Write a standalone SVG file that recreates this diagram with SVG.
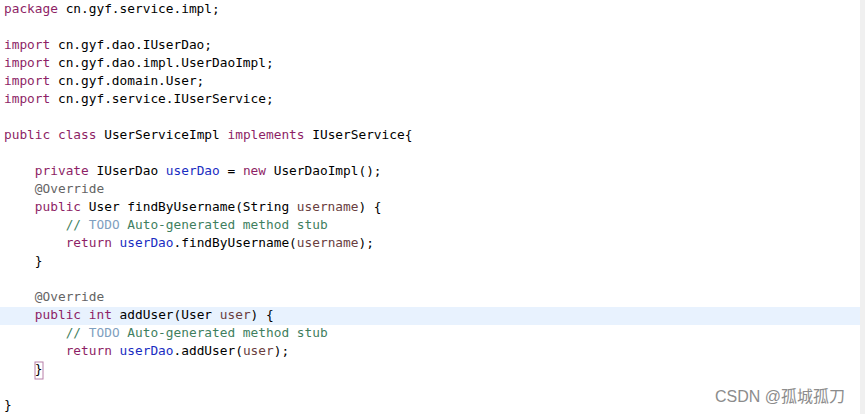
<svg xmlns="http://www.w3.org/2000/svg" width="865" height="414" viewBox="0 0 865 414">
<style>
.c{font-family:"DejaVu Sans Mono","Liberation Mono",monospace;font-size:12.8px;fill:#000;white-space:pre}
.k{fill:#8E1F66}
.f{fill:#1A2DC2}
.p{fill:#6A3E3E}
.m{fill:#3F7F5F}
.t{fill:#7F9FBF}
.a{fill:#646464}
</style>
<rect x="0" y="0" width="865" height="414" fill="#ffffff"/>
<rect x="0" y="307" width="860" height="18" fill="#E8F2FE"/>
<rect x="860" y="0" width="5" height="414" fill="#F0F0F0"/>
<rect x="35" y="362" width="8" height="17" fill="none" stroke="#B77FA8" stroke-width="1"/>
<g id="code" xml:space="preserve">
<text class="c" x="4" y="13"><tspan class="k">package</tspan> cn.gyf.service.impl;</text>
<text class="c" x="4" y="49"><tspan class="k">import</tspan> cn.gyf.dao.IUserDao;</text>
<text class="c" x="4" y="67"><tspan class="k">import</tspan> cn.gyf.dao.impl.UserDaoImpl;</text>
<text class="c" x="4" y="85"><tspan class="k">import</tspan> cn.gyf.domain.User;</text>
<text class="c" x="4" y="103"><tspan class="k">import</tspan> cn.gyf.service.IUserService;</text>
<text class="c" x="4" y="139"><tspan class="k">public</tspan> <tspan class="k">class</tspan> UserServiceImpl <tspan class="k">implements</tspan> IUserService{</text>
<text class="c" x="4" y="175">    <tspan class="k">private</tspan> IUserDao <tspan class="f">userDao</tspan> = <tspan class="k">new</tspan> UserDaoImpl();</text>
<text class="c" x="4" y="193">    <tspan class="a">@Override</tspan></text>
<text class="c" x="4" y="211">    <tspan class="k">public</tspan> User findByUsername(String <tspan class="p">username</tspan>) {</text>
<text class="c" x="4" y="229">        <tspan class="m">// </tspan><tspan class="t">TODO</tspan><tspan class="m"> Auto-generated method stub</tspan></text>
<text class="c" x="4" y="247">        <tspan class="k">return</tspan> <tspan class="f">userDao</tspan>.findByUsername(<tspan class="p">username</tspan>);</text>
<text class="c" x="4" y="265">    }</text>
<text class="c" x="4" y="301">    <tspan class="a">@Override</tspan></text>
<text class="c" x="4" y="319">    <tspan class="k">public</tspan> <tspan class="k">int</tspan> addUser(User <tspan class="p">user</tspan>) {</text>
<text class="c" x="4" y="337">        <tspan class="m">// </tspan><tspan class="t">TODO</tspan><tspan class="m"> Auto-generated method stub</tspan></text>
<text class="c" x="4" y="355">        <tspan class="k">return</tspan> <tspan class="f">userDao</tspan>.addUser(<tspan class="p">user</tspan>);</text>
<text class="c" x="4" y="373">    }</text>
<text class="c" x="4" y="409">}</text>
</g>
<text x="715" y="402" font-family="'Liberation Sans','Noto Sans CJK SC',sans-serif" font-size="16" fill="#8C8C8C">CSDN @孤城孤刀</text>
</svg>
